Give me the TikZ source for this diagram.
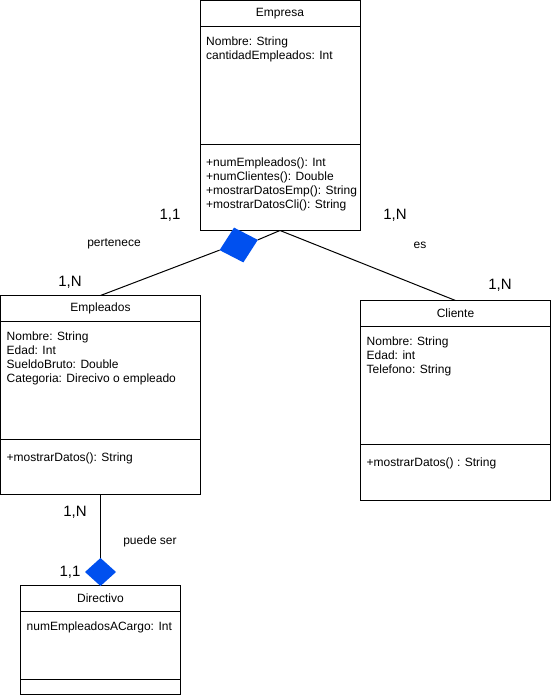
\documentclass[tikz,border=0pt]{standalone}
\usepackage{fontspec}
\setmainfont{Liberation Sans}
\usetikzlibrary{positioning,shapes.geometric}
\definecolor{azul}{HTML}{0050EF}
\tikzset{titulo/.style={
    % The shape:
    rectangle,
    inner sep=0pt,
    outer sep=0pt,
    minimum height=26pt,
    % The border:
    line width=1pt,
    draw=black,
    % Font
    font=\fontsize{12}{14}\selectfont
    },
    seccion/.style={
    rectangle,
    inner sep=0pt,
    outer sep=0pt,
    line width=1pt,
    draw=black,
    },
    lista/.style={
    anchor=north west,
    inner sep=0pt,
    align=left,
    font=\fontsize{12}{14}\selectfont
    },
    rombo/.style={
    diamond,
    inner sep=0pt,
    outer sep=0pt,
    fill=azul,
    },
    card/.style={
    font=\fontsize{15}{18}\selectfont
    },
    rol/.style={
    font=\fontsize{12}{14}\selectfont
    },
    conector/.style={
    line width=1pt,
    draw=black,
    },
}

\begin{document}
\begin{tikzpicture}[x=1pt,y=-1pt,node distance = 0mm and 0mm]
    \useasboundingbox (0,0) rectangle (551,696);

    % Empresa
    \node (empresa)    [titulo,minimum width=160pt,anchor=north] at (280,0.5) {Empresa};
    \node (empresa-at) [seccion,minimum width=160pt,minimum height=118pt,below=of empresa]    {};
    \node (empresa-me) [seccion,minimum width=160pt,minimum height=86pt,below=of empresa-at] {};
    \node (empresa-atr) [lista] at ([shift={(6,10)}]empresa-at.north west) {Nombre: String\\cantidadEmpleados: Int};
    \node (empresa-met) [lista] at ([shift={(6,13)}]empresa-me.north west) {+numEmpleados(): Int\\+numClientes(): Double\\+mostrarDatosEmp(): String\\+mostrarDatosCli(): String};

    % Empleados
    \node (empleados)    [titulo,minimum width=200pt,anchor=north] at (100.5,295.5) {Empleados};
    \node (empleados-at) [seccion,minimum width=200pt,minimum height=118pt,below=of empleados]    {};
    \node (empleados-me) [seccion,minimum width=200pt,minimum height=55pt,below=of empleados-at] {};
    \node (empleados-atr) [lista] at ([shift={(6,10)}]empleados-at.north west) {Nombre: String\\Edad: Int\\SueldoBruto: Double\\Categoria: Direcivo o empleado};
    \node (empleados-met) [lista] at ([shift={(6,13)}]empleados-me.north west) {+mostrarDatos(): String};

    % Cliente
    \node (cliente)    [titulo,minimum width=190pt,anchor=north] at (455.5,300.5) {Cliente};
    \node (cliente-at) [seccion,minimum width=190pt,minimum height=118pt,below=of cliente]    {};
    \node (cliente-me) [seccion,minimum width=190pt,minimum height=56pt,below=of cliente-at] {};
    \node (cliente-atr) [lista] at ([shift={(6,10)}]cliente-at.north west) {Nombre: String\\Edad: int\\Telefono: String};
    \node (cliente-met) [lista] at ([shift={(6,13)}]cliente-me.north west) {+mostrarDatos() : String};

    % Directivo
    \node (directivo)    [titulo,minimum width=160pt,anchor=north] at (100.5,585.5) {Directivo};
    \node (directivo-at) [seccion,minimum width=160pt,minimum height=68pt,below=of directivo]    {};
    \node (directivo-me) [seccion,minimum width=160pt,minimum height=15pt,below=of directivo-at] {};
    \node (directivo-atr) [lista] at ([shift={(6,10)}]directivo-at.north west) {numEmpleadosACargo: Int};

    % relaciones
    \node (rombo1) [rombo,minimum width=39.6pt,minimum height=36pt,rotate=15] at (238.7,245) {};
    \node (rombo2) [rombo,minimum width=31pt,minimum height=28pt] at (100.5,572) {};
    \path (empleados.north) edge[conector] (rombo1.west);
    \path (rombo1.east) edge[conector] (empresa-me.south);
    \path (empresa-me.south) edge[conector] (cliente.north);
    \path (empleados-me.south) edge[conector] (rombo2.north);

    \node (card-emp)  [card] at (170,215) {1,1};
    \node (card-cli)  [card] at (395,215) {1,N};
    \node (card-emp2) [card] at (70,282)  {1,N};
    \node (card-cli2) [card] at (500,285) {1,N};
    \node (card-dir)  [card] at (75,512)  {1,N};
    \node (card-dir2) [card] at (70,572)  {1,1};
    \node (pertenece) [rol] at (114,244) {pertenece};
    \node (es)        [rol] at (420,245) {es};
    \node (puede)     [rol] at (150,541) {puede ser};
  \end{tikzpicture}
\end{document}
